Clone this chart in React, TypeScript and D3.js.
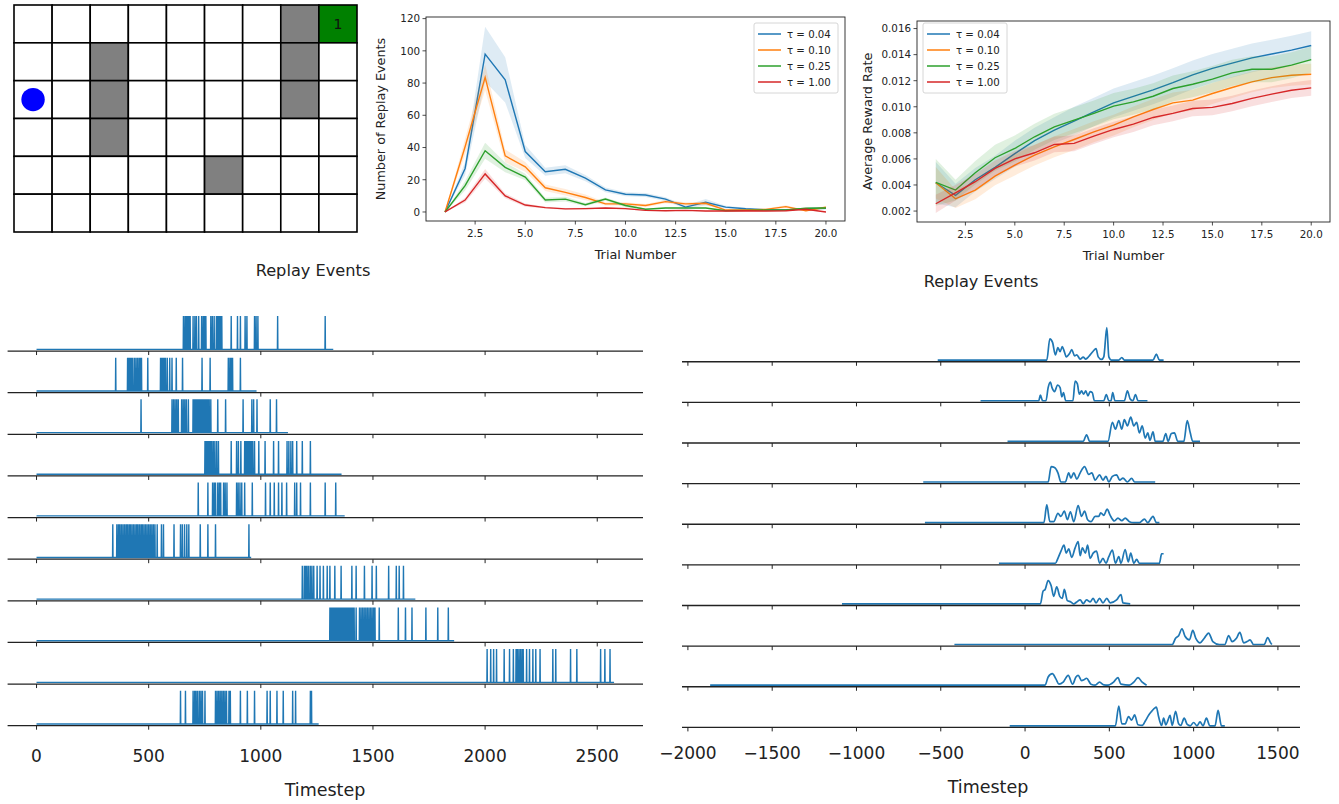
import * as d3 from "d3";

// ---- top panels: trial-by-trial summaries ----
const trials = [1, 2, 3, 4, 5, 6, 7, 8, 9, 10, 11, 12, 13, 14, 15, 16, 17, 18, 19, 20];
const tauLabels = ["τ = 0.04", "τ = 0.10", "τ = 0.25", "τ = 1.00"];
const tauColors = ["#1f77b4", "#ff7f0e", "#2ca02c", "#d62728"];

const replay004 = [0, 27, 98, 82, 37.5, 25, 26.5, 21, 13.7, 11, 10.5, 8, 3, 6, 3, 2, 1.3, 1.3, 2, 2.3];
const replay010 = [0, 40.5, 83.5, 34.8, 28, 15, 12.2, 9, 5, 5, 4, 6.4, 5, 5.4, 1.2, 1.2, 1.6, 3.3, 0.8, 2.9];
const replay025 = [0, 16.3, 38, 27.7, 21.7, 7.4, 8, 4.5, 8, 4, 1.7, 2.5, 2.5, 2.5, 0.8, 1, 1.2, 1.2, 2.3, 2.5];
const replay100 = [0, 7.4, 23.6, 10, 4.3, 2.7, 1.9, 2.1, 2.5, 2.1, 1, 0.8, 1, 0.6, 0.6, 0.8, 0.6, 0.8, 1.7, 0];
const replayCi004 = [0, 4, 17, 14, 4, 2.5, 2.5, 2, 1.5, 1.2, 1.2, 1.2, 1, 2, 0.8, 0.6, 0.5, 0.5, 0.6, 0.8];
const replayCi010 = [0, 5, 8, 4, 3, 2, 2, 1.8, 1, 1, 1, 1, 1, 1, 0.5, 0.5, 0.5, 0.8, 0.5, 0.8];
const replayCi025 = [0, 3, 5, 3, 2, 1.5, 1.5, 1, 1, 1, 0.5, 0.5, 0.5, 0.5, 0.4, 0.4, 0.4, 0.4, 0.5, 0.5];
const replayCi100 = [0, 1.5, 3, 1.5, 1, 0.6, 0.5, 0.5, 0.5, 0.5, 0.3, 0.3, 0.3, 0.3, 0.3, 0.3, 0.3, 0.3, 0.4, 0.2];

const reward004 = [0.00417, 0.0032, 0.0044, 0.00535, 0.0064, 0.0074, 0.0082, 0.0089, 0.0096, 0.0103, 0.0108, 0.0113, 0.01185, 0.01245, 0.01295, 0.01335, 0.01375, 0.01405, 0.01435, 0.0147];
const reward010 = [0.00417, 0.00294, 0.00361, 0.00468, 0.00553, 0.00629, 0.00693, 0.00749, 0.00808, 0.00859, 0.00923, 0.00979, 0.0103, 0.01051, 0.01102, 0.01148, 0.01191, 0.01224, 0.01242, 0.0125];
const reward025 = [0.0042, 0.00361, 0.00494, 0.00609, 0.0068, 0.0077, 0.00846, 0.00897, 0.00949, 0.01005, 0.01038, 0.01081, 0.0114, 0.01173, 0.01212, 0.0126, 0.01288, 0.01288, 0.01319, 0.01362];
const reward100 = [0.00256, 0.0034, 0.00425, 0.00527, 0.00601, 0.00647, 0.00711, 0.00719, 0.00775, 0.00826, 0.00867, 0.00918, 0.00949, 0.00987, 0.00995, 0.01025, 0.01064, 0.01097, 0.01127, 0.01145];
const rewardCi004 = [0.0016, 0.0009, 0.0009, 0.0009, 0.001, 0.001, 0.001, 0.0011, 0.0011, 0.0011, 0.0011, 0.0011, 0.0011, 0.0011, 0.0011, 0.0011, 0.0011, 0.0011, 0.0011, 0.0011];
const rewardCi010 = [0.0012, 0.0007, 0.0007, 0.0007, 0.0008, 0.0008, 0.0008, 0.0008, 0.0008, 0.0008, 0.0008, 0.0008, 0.0008, 0.0008, 0.0008, 0.0008, 0.0008, 0.0008, 0.0008, 0.0008];
const rewardCi025 = [0.0018, 0.0008, 0.0009, 0.001, 0.001, 0.001, 0.001, 0.001, 0.001, 0.001, 0.001, 0.001, 0.001, 0.001, 0.001, 0.001, 0.001, 0.001, 0.001, 0.001];
const rewardCi100 = [0.0007, 0.0006, 0.0006, 0.0006, 0.0006, 0.0006, 0.0006, 0.0006, 0.0006, 0.0006, 0.0006, 0.0006, 0.0006, 0.0006, 0.0006, 0.0006, 0.0006, 0.0006, 0.0006, 0.0006];

const trialTicks = [2.5, 5, 7.5, 10, 12.5, 15, 17.5, 20];
const replayTicks = [0, 20, 40, 60, 80, 100, 120];
const rewardTicks = [0.002, 0.004, 0.006, 0.008, 0.01, 0.012, 0.014, 0.016];

// ---- grid world ----
const gridRows = 6;
const gridCols = 9;
const walls = [[0, 7], [1, 2], [1, 7], [2, 2], [2, 7], [3, 2], [4, 5]];
const goal = [0, 8];
const agent = [2, 0];

// ---- bottom left: replay event rasters (timestep of each event, episode end) ----
const raster1 = [655, 662, 668, 673, 679, 685, 698, 706, 713, 723, 736, 743, 749, 755, 777, 784, 792, 802, 808, 814, 820, 826, 868, 896, 909, 930, 938, 972, 979, 987, 1075, 1287];
const raster2 = [353, 406, 412, 418, 424, 428, 436, 443, 450, 457, 463, 468, 496, 553, 559, 565, 570, 575, 583, 594, 604, 623, 651, 738, 774, 855, 862, 868, 874, 909];
const raster3 = [466, 604, 611, 618, 625, 632, 647, 654, 661, 668, 677, 698, 704, 710, 716, 722, 728, 734, 740, 746, 752, 758, 764, 770, 777, 808, 843, 921, 960, 968, 983, 1042, 1070];
const raster4 = [751, 757, 763, 769, 775, 781, 788, 795, 803, 811, 868, 892, 900, 911, 928, 934, 940, 946, 952, 958, 964, 972, 991, 1019, 1057, 1079, 1117, 1125, 1134, 1142, 1160, 1185, 1221];
const raster5 = [721, 764, 785, 792, 798, 808, 815, 821, 834, 841, 849, 892, 899, 907, 915, 928, 962, 1021, 1042, 1060, 1079, 1094, 1115, 1151, 1160, 1177, 1221, 1287, 1334];
const raster6 = [340, 358, 365, 371, 378, 385, 392, 399, 405, 412, 418, 425, 432, 439, 446, 452, 459, 466, 472, 479, 486, 493, 500, 507, 514, 521, 528, 538, 557, 566, 613, 642, 650, 660, 670, 679, 730, 764, 798, 947];
const raster7 = [1185, 1194, 1200, 1206, 1213, 1221, 1228, 1236, 1251, 1264, 1279, 1296, 1308, 1330, 1358, 1406, 1425, 1462, 1496, 1515, 1570, 1604, 1617, 1636];
const raster8 = [1308, 1314, 1320, 1326, 1332, 1338, 1344, 1350, 1356, 1362, 1368, 1374, 1380, 1386, 1392, 1398, 1404, 1410, 1416, 1425, 1440, 1447, 1454, 1461, 1468, 1475, 1482, 1489, 1496, 1503, 1509, 1528, 1613, 1645, 1674, 1736, 1789, 1836];
const raster9 = [2009, 2025, 2038, 2051, 2085, 2109, 2126, 2138, 2144, 2151, 2158, 2165, 2170, 2185, 2198, 2213, 2226, 2245, 2302, 2315, 2381, 2409, 2515, 2534, 2557];
const raster10 = [642, 664, 698, 705, 711, 718, 726, 733, 740, 751, 798, 805, 812, 819, 826, 833, 840, 847, 858, 864, 909, 940, 972, 1028, 1042, 1072, 1100, 1142, 1155, 1221, 1226];
const rasterEnds = [1323, 981, 1121, 1360, 1374, 957, 1689, 1862, 2575, 1258];
const rasterTicks = [0, 500, 1000, 1500, 2000, 2500];

// ---- bottom right: smoothed replay rate, aligned timesteps ----
const aligned1 = [[-518, 0], [129, 0], [147, 0.65], [163, 0.54], [180, 0.16], [195, 0.38], [208, 0.26], [221, 0.41], [233, 0.26], [244, 0.1], [264, 0.2], [277, 0.32], [294, 0.13], [307, 0.16], [327, 0.03], [345, 0.09], [360, 0.03], [378, 0.11], [404, 0.27], [421, 0.35], [434, 0.1], [454, 0.02], [467, 0.1], [485, 0.99], [497, 0.1], [513, 0], [556, 0], [574, 0.08], [589, 0], [759, 0], [779, 0.18], [797, 0], [822, 0]];
const aligned2 = [[-264, 0], [81, 0], [91, 0.17], [104, 0], [124, 0], [137, 0.4], [150, 0.57], [160, 0.4], [175, 0.28], [193, 0.48], [208, 0.4], [218, 0.12], [228, 0.25], [241, 0], [284, 0], [297, 0.6], [310, 0.52], [322, 0.2], [335, 0.3], [348, 0.2], [360, 0.3], [373, 0.15], [386, 0.28], [399, 0.25], [411, 0], [467, 0], [482, 0.19], [497, 0], [510, 0], [520, 0.25], [533, 0], [589, 0], [607, 0.3], [624, 0.05], [640, 0], [655, 0.19], [670, 0], [726, 0]];
const aligned3 = [[-104, 0], [345, 0], [365, 0.2], [383, 0], [492, 0], [518, 0.58], [536, 0.37], [556, 0.63], [574, 0.37], [589, 0.66], [607, 0.47], [627, 0.74], [645, 0.47], [662, 0.58], [678, 0.26], [695, 0.47], [713, 0.1], [728, 0.26], [741, 0.03], [759, 0.29], [772, 0], [817, 0], [835, 0.24], [848, 0], [868, 0.24], [886, 0.26], [906, 0], [942, 0], [962, 0.63], [980, 0.26], [995, 0], [1038, 0]];
const aligned4 = [[-604, 0], [137, 0], [155, 0.47], [175, 0.44], [195, 0.28], [213, 0], [239, 0], [259, 0.28], [272, 0.12], [289, 0.28], [307, 0.09], [327, 0.28], [353, 0.47], [378, 0.23], [396, 0.28], [416, 0.06], [442, 0.22], [462, 0.06], [480, 0.17], [497, 0], [518, 0.17], [543, 0.22], [561, 0.06], [581, 0.12], [607, 0], [632, 0.11], [650, 0], [772, 0]];
const aligned5 = [[-594, 0], [112, 0], [129, 0.54], [147, 0.03], [170, 0.03], [195, 0.28], [213, 0.19], [233, 0.35], [251, 0.09], [269, 0.33], [289, 0.03], [315, 0.52], [335, 0.19], [353, 0.35], [371, 0.09], [391, 0.03], [416, 0.19], [437, 0.19], [449, 0.3], [467, 0.22], [487, 0.41], [505, 0.22], [530, 0.05], [551, 0.14], [574, 0.06], [594, 0.14], [619, 0.03], [645, 0], [678, 0], [708, 0.11], [728, 0], [759, 0.19], [779, 0], [797, 0]];
const aligned6 = [[-155, 0], [180, 0], [195, 0.15], [213, 0.37], [231, 0.55], [244, 0.31], [259, 0.44], [277, 0.18], [297, 0.47], [315, 0.66], [327, 0.23], [340, 0.47], [358, 0.31], [371, 0.55], [386, 0.15], [404, 0.31], [424, 0.37], [442, 0], [462, 0.15], [480, 0], [497, 0.2], [518, 0.4], [536, 0], [556, 0.2], [569, 0], [594, 0.42], [612, 0.04], [627, 0.31], [645, 0], [662, 0.12], [678, 0], [797, 0], [810, 0.29], [822, 0.29]];
const aligned7 = [[-1086, 0], [91, 0], [107, 0.39], [119, 0.44], [137, 0.71], [155, 0.55], [170, 0.23], [188, 0.52], [206, 0.23], [221, 0.17], [233, 0.44], [251, 0.1], [272, 0.06], [289, 0], [307, 0.06], [327, 0.12], [345, 0.01], [365, 0.12], [386, 0.06], [404, 0.17], [421, 0.03], [442, 0.17], [462, 0.03], [485, 0.17], [505, 0.03], [543, 0.12], [569, 0.28], [581, 0.03], [624, 0]];
const aligned8 = [[-419, 0], [873, 0], [893, 0.19], [911, 0.27], [931, 0.48], [949, 0.25], [975, 0.14], [995, 0.43], [1013, 0.19], [1038, 0.05], [1063, 0.19], [1089, 0.35], [1114, 0.09], [1152, 0], [1185, 0], [1208, 0.27], [1228, 0.09], [1254, 0.19], [1274, 0.37], [1297, 0.05], [1317, 0.09], [1335, 0.14], [1355, 0], [1419, 0], [1439, 0.21], [1457, 0.05], [1464, 0]];
const aligned9 = [[-1868, 0], [119, 0], [137, 0.25], [162, 0.35], [183, 0.19], [201, 0.03], [226, 0.09], [256, 0.3], [282, 0.03], [302, 0.25], [315, 0.3], [335, 0.14], [348, 0.16], [365, 0.21], [391, 0.03], [416, 0], [442, 0.09], [467, 0.01], [492, 0], [525, 0.09], [551, 0.23], [569, 0.03], [619, 0], [645, 0.09], [670, 0.23], [695, 0.09], [721, 0]];
const aligned10 = [[-91, 0], [536, 0], [556, 0.6], [574, 0.06], [594, 0.06], [614, 0.28], [632, 0.17], [650, 0.33], [670, 0.03], [695, 0.01], [716, 0.17], [734, 0.33], [751, 0.44], [767, 0.53], [779, 0.57], [792, 0.28], [810, 0.01], [822, 0.23], [835, 0.03], [848, 0.17], [860, 0.32], [873, 0.01], [893, 0.44], [911, 0.06], [924, 0.01], [944, 0.23], [962, 0.04], [980, 0], [1000, 0.1], [1020, 0], [1038, 0.12], [1056, 0], [1076, 0.23], [1096, 0], [1127, 0], [1145, 0.47], [1165, 0], [1185, 0]];
const alignedTicks = [-2000, -1500, -1000, -500, 0, 500, 1000, 1500];

const FONT = "DejaVu Sans";
const INK = "#222";

type Box = { l: number; r: number; t: number; b: number };

function TrialPanel(props: {
  box: Box; yDomain: [number, number]; yTicks: number[]; yDigits: number;
  means: number[][]; cis: number[][]; yLabel: string; yLabelX: number; legendX: number;
}) {
  const { box, yDomain, yTicks, yDigits, means, cis, yLabel, yLabelX, legendX } = props;
  const x = d3.scaleLinear().domain([0.05, 20.95]).range([box.l, box.r]);
  const y = d3.scaleLinear().domain(yDomain).range([box.b, box.t]);
  const clipId = `clip${Math.round(box.l)}`;
  return (
    <g fontFamily={FONT} fill={INK}>
      <defs>
        <clipPath id={clipId}>
          <rect x={box.l} y={box.t} width={box.r - box.l} height={box.b - box.t} />
        </clipPath>
      </defs>
      <g clipPath={`url(#${clipId})`}>
        {means.map((m, k) => {
          const band = d3.area<number>()
            .x(t => x(t))
            .y0((_, i) => y(m[i] - cis[k][i]))
            .y1((_, i) => y(m[i] + cis[k][i]));
          const line = d3.line<number>().x(t => x(t)).y((_, i) => y(m[i]));
          return (
            <g key={k}>
              <path d={band(trials)!} fill={tauColors[k]} fillOpacity={0.15} stroke="none" />
              <path d={line(trials)!} fill="none" stroke={tauColors[k]} strokeWidth={1.4} />
            </g>
          );
        })}
      </g>
      <rect x={box.l} y={box.t} width={box.r - box.l} height={box.b - box.t} fill="none" stroke="#222" strokeWidth={0.9} />
      {trialTicks.map(t => (
        <g key={t}>
          <line x1={x(t)} x2={x(t)} y1={box.b} y2={box.b + 3.5} stroke="#222" strokeWidth={0.8} />
          <text x={x(t)} y={box.b + 16} fontSize={10.3} textAnchor="middle">{t.toFixed(1)}</text>
        </g>
      ))}
      {yTicks.map(v => (
        <g key={v}>
          <line x1={box.l - 3.5} x2={box.l} y1={y(v)} y2={y(v)} stroke="#222" strokeWidth={0.8} />
          <text x={box.l - 6} y={y(v) + 3.8} fontSize={10.3} textAnchor="end">{v.toFixed(yDigits)}</text>
        </g>
      ))}
      <text x={(box.l + box.r) / 2} y={box.b + 38} fontSize={12.8} textAnchor="middle">Trial Number</text>
      <text transform={`translate(${yLabelX},${(box.t + box.b) / 2}) rotate(-90)`} fontSize={12.8} textAnchor="middle">{yLabel}</text>
      <g transform={`translate(${legendX},23)`}>
        <rect width={84} height={70} rx={2} fill="#fff" fillOpacity={0.85} stroke="#ccc" strokeWidth={0.8} />
        {tauLabels.map((lab, k) => (
          <g key={lab} transform={`translate(0,${11 + k * 16})`}>
            <line x1={4} x2={27} y1={0} y2={0} stroke={tauColors[k]} strokeWidth={1.5} />
            <text x={33} y={3.8} fontSize={10.2}>{lab}</text>
          </g>
        ))}
      </g>
    </g>
  );
}

function GridWorld() {
  const gx = d3.scaleBand<number>().domain(d3.range(gridCols)).range([14, 357]);
  const gy = d3.scaleBand<number>().domain(d3.range(gridRows)).range([5, 232]);
  const isWall = (r: number, c: number) => walls.some(w => w[0] === r && w[1] === c);
  return (
    <g>
      {d3.range(gridRows).map(r =>
        d3.range(gridCols).map(c => {
          const fill = r === goal[0] && c === goal[1] ? "#008000" : isWall(r, c) ? "#808080" : "#fff";
          return <rect key={`${r}-${c}`} x={gx(c)} y={gy(r)} width={gx.bandwidth()} height={gy.bandwidth()} fill={fill} stroke="#000" strokeWidth={1.6} />;
        })
      )}
      <text x={gx(goal[1])! + gx.bandwidth() / 2} y={gy(goal[0])! + gy.bandwidth() / 2 + 5} fontSize={14} fontFamily={FONT} textAnchor="middle" fill="#111">1</text>
      <circle cx={gx(agent[1])! + gx.bandwidth() / 2} cy={gy(agent[0])! + gy.bandwidth() / 2} r={11.7} fill="#0000ff" />
    </g>
  );
}

function StackedRows(props: {
  rows: [number, number][][]; xDomain: [number, number]; xRange: [number, number];
  yRange: [number, number]; ticks: number[]; yMax: number; curve: d3.CurveFactory; lineWidth: number;
  labelY: number; title: string; titleX: number; titleY: number; xLabelX: number; xLabelY: number;
}) {
  const { rows, xDomain, xRange, yRange, ticks, yMax, curve, lineWidth, labelY, title, titleX, titleY, xLabelX, xLabelY } = props;
  const x = d3.scaleLinear().domain(xDomain).range(xRange);
  const band = d3.scaleBand<number>().domain(d3.range(rows.length)).range(yRange).paddingInner(0.12);
  return (
    <g fontFamily={FONT} fill={INK}>
      <text x={titleX} y={titleY} fontSize={16.2} textAnchor="middle">{title}</text>
      {rows.map((pts, i) => {
        const top = band(i)!;
        const bottom = top + band.bandwidth();
        const y = d3.scaleLinear().domain([-0.05 * yMax, 1.05 * yMax]).range([bottom, top]);
        const line = d3.line<[number, number]>().x(d => x(d[0])).y(d => y(d[1])).curve(curve);
        return (
          <g key={i}>
            <path d={line(pts)!} fill="none" stroke="#1f77b4" strokeWidth={lineWidth} />
            <line x1={xRange[0]} x2={xRange[1]} y1={bottom} y2={bottom} stroke="#222" strokeWidth={1.3} />
            {ticks.map(t => (
              <line key={t} x1={x(t)} x2={x(t)} y1={bottom} y2={bottom + 4} stroke="#222" strokeWidth={1} />
            ))}
          </g>
        );
      })}
      {ticks.map(t => (
        <text key={t} x={x(t)} y={labelY} fontSize={17} textAnchor="middle">{t < 0 ? `\u2212${Math.abs(t)}` : t}</text>
      ))}
      <text x={xLabelX} y={xLabelY} fontSize={17.5} textAnchor="middle">Timestep</text>
    </g>
  );
}

const rasterPoints = (events: number[], end: number): [number, number][] => {
  const pts: [number, number][] = [[0, 0]];
  events.forEach(e => pts.push([e - 1, 0], [e, 1], [e + 1, 0]));
  pts.push([end, 0]);
  return pts;
};

export default function App() {
  const rasters = [raster1, raster2, raster3, raster4, raster5, raster6, raster7, raster8, raster9, raster10]
    .map((ev, i) => rasterPoints(ev, rasterEnds[i]));
  const aligned = [aligned1, aligned2, aligned3, aligned4, aligned5, aligned6, aligned7, aligned8, aligned9, aligned10] as [number, number][][];
  const alignedMax = d3.max(aligned.flat(), d => d[1])!;
  return (
    <svg width={1339} height={804} style={{ position: "absolute", left: 0, top: 0, background: "#fff" }}>
      <GridWorld />
      <TrialPanel
        box={{ l: 426, r: 845, t: 17, b: 221 }}
        yDomain={[-5.6, 121]}
        yTicks={replayTicks}
        yDigits={0}
        means={[replay004, replay010, replay025, replay100]}
        cis={[replayCi004, replayCi010, replayCi025, replayCi100]}
        yLabel="Number of Replay Events"
        yLabelX={385}
        legendX={754}
      />
      <TrialPanel
        box={{ l: 917, r: 1330, t: 21, b: 222 }}
        yDomain={[0.00116, 0.01658]}
        yTicks={rewardTicks}
        yDigits={3}
        means={[reward004, reward010, reward025, reward100]}
        cis={[rewardCi004, rewardCi010, rewardCi025, rewardCi100]}
        yLabel="Average Reward Rate"
        yLabelX={872}
        legendX={923}
      />
      <StackedRows
        rows={rasters}
        xDomain={[-129, 2704]}
        xRange={[7.6, 643]}
        yRange={[314.4, 725.7]}
        ticks={rasterTicks}
        yMax={1}
        curve={d3.curveLinear}
        lineWidth={1.4}
        labelY={762}
        title="Replay Events"
        titleX={313}
        titleY={276}
        xLabelX={325}
        xLabelY={796}
      />
      <StackedRows
        rows={aligned}
        xDomain={[-2035, 1631]}
        xRange={[682, 1300]}
        yRange={[326, 727.4]}
        ticks={alignedTicks}
        yMax={alignedMax}
        curve={d3.curveMonotoneX}
        lineWidth={1.7}
        labelY={759}
        title="Replay Events"
        titleX={981}
        titleY={287}
        xLabelX={988}
        xLabelY={793}
      />
    </svg>
  );
}
